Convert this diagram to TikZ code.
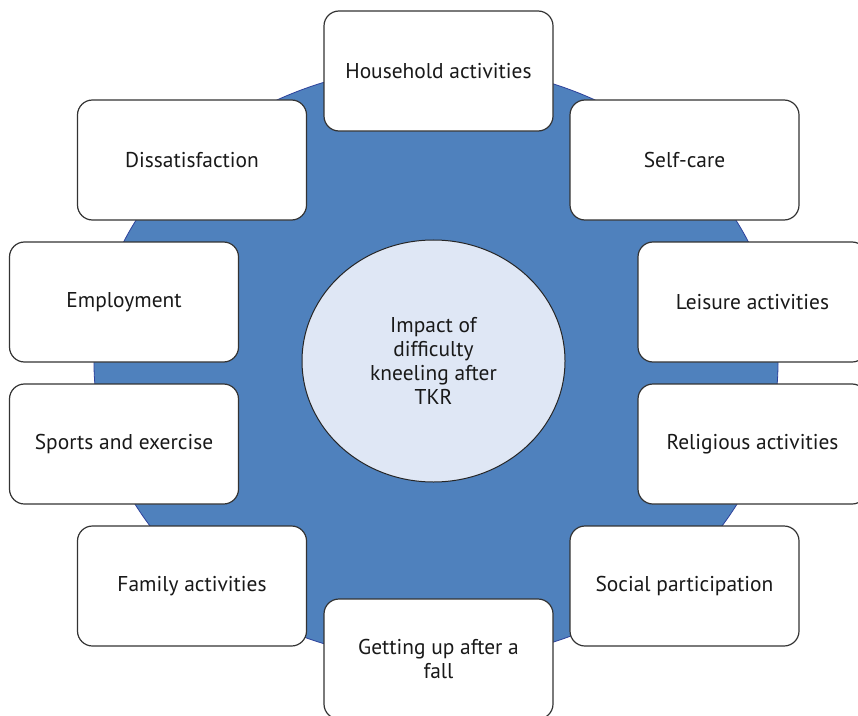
\documentclass[tikz,border=0pt]{standalone}
\usepackage{fontspec}
\setmainfont{PT Sans}
\usetikzlibrary{shapes.geometric}
\definecolor{ringblue}{RGB}{79,129,189}
\definecolor{ringedge}{RGB}{45,65,155}
\definecolor{hubfill}{RGB}{223,231,245}
\tikzset{
  topic/.style={draw=black!80, line width=1.2bp, fill=white, rounded corners=15bp,
    minimum width=229bp, minimum height=120bp, inner sep=0pt, align=center,
    text=black!90, font=\fontsize{21.5}{25}\selectfont},
}
\begin{document}
\begin{tikzpicture}[x=1bp, y=-1bp]
\useasboundingbox (0,0) rectangle (858,716);
% big ring and hub
\node[ellipse, draw=ringedge, fill=ringblue, line width=0.8bp, minimum width=684bp, minimum height=594bp, inner sep=0pt] (ring) at (436,363) {};
\node[ellipse, draw=black!85, fill=hubfill, line width=1bp, minimum width=263bp, minimum height=242bp, inner sep=0pt, align=center, text=black!90, font=\fontsize{21.5}{24}\selectfont] (hub) at (433.5,361) {Impact of\\difficulty\\kneeling after\\TKR};
% topics
\node[topic] (household) at (438.5,71) {Household activities};
\node[topic] (selfcare) at (684.5,160) {Self-care};
\node[topic] (leisure) at (752.5,302) {Leisure activities};
\node[topic] (religious) at (752.5,444) {Religious activities};
\node[topic] (social) at (684.5,586) {Social participation};
\node[topic] (fall) at (438.5,659) {Getting up after a\\fall};
\node[topic] (family) at (192,586) {Family activities};
\node[topic] (sports) at (124,444) {Sports and exercise};
\node[topic] (employment) at (124,302) {Employment};
\node[topic] (dissatisfaction) at (192,160) {Dissatisfaction};
\end{tikzpicture}
\end{document}
